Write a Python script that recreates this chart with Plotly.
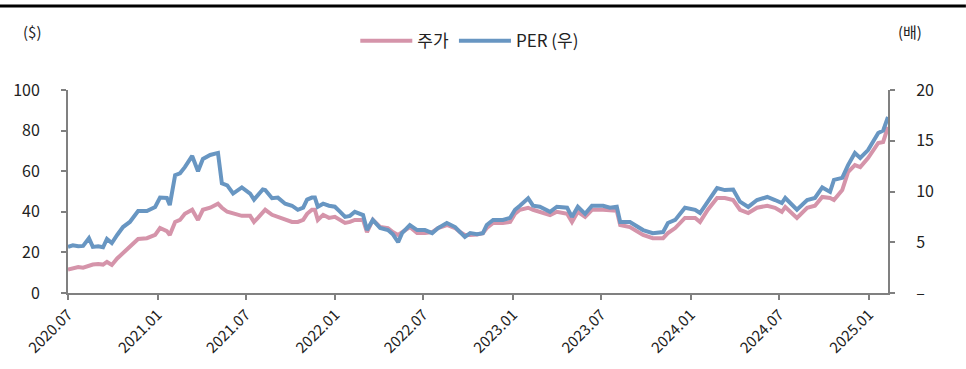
import plotly.graph_objects as go

dates = ["2020-07-01","2020-07-11","2020-07-22","2020-08-01","2020-08-13","2020-08-21","2020-09-01","2020-09-11",
         "2020-09-19","2020-09-29","2020-10-10","2020-10-22","2020-11-05","2020-11-22","2020-12-10","2020-12-27",
         "2021-01-06","2021-01-20","2021-01-26","2021-02-06","2021-02-16","2021-02-26","2021-03-13","2021-03-19",
         "2021-03-25","2021-04-04","2021-04-19","2021-05-05","2021-05-13","2021-05-24","2021-06-05","2021-06-23",
         "2021-07-10","2021-07-18","2021-07-26","2021-08-05","2021-08-10","2021-08-24","2021-09-05","2021-09-20",
         "2021-10-04","2021-10-16","2021-10-27","2021-11-04","2021-11-14","2021-11-20","2021-11-26","2021-12-07",
         "2021-12-19","2021-12-31","2022-01-11","2022-01-21","2022-01-31","2022-02-10","2022-02-27","2022-03-07",
         "2022-03-19","2022-04-03","2022-04-19","2022-04-29","2022-05-10","2022-05-18","2022-06-03","2022-06-18",
         "2022-07-04","2022-07-19","2022-07-31","2022-08-18","2022-09-04","2022-09-14","2022-09-24","2022-10-05",
         "2022-10-19","2022-10-31","2022-11-08","2022-11-21","2022-12-11","2022-12-26","2023-01-05","2023-01-15",
         "2023-02-01","2023-02-11","2023-02-25","2023-03-18","2023-04-01","2023-04-22","2023-05-02","2023-05-14",
         "2023-05-29","2023-06-12","2023-07-05","2023-07-19","2023-08-02","2023-08-09","2023-08-29","2023-09-25",
         "2023-10-15","2023-11-05","2023-11-15","2023-11-30","2023-12-20","2024-01-10","2024-01-20","2024-02-05",
         "2024-02-24","2024-03-11","2024-03-28","2024-04-11","2024-04-28","2024-05-16","2024-06-06","2024-06-22",
         "2024-07-06","2024-07-13","2024-08-06","2024-08-27","2024-09-12","2024-09-27","2024-10-13","2024-10-21",
         "2024-11-07","2024-11-19","2024-12-03","2024-12-14","2024-12-30","2025-01-20","2025-01-30","2025-02-09"]

price = [11.5,12.3,12.8,12.5,13.5,14.0,14.3,14.0,
         15.3,13.8,17.0,19.7,22.7,26.6,27.0,28.6,
         32.0,30.5,28.6,35.0,36.0,39.0,41.0,38.0,
         36.0,41.0,42.0,44.0,42.0,40.0,39.0,38.0,
         38.0,35.0,37.0,40.0,41.0,38.5,37.5,36.0,
         35.0,35.0,36.0,39.0,41.0,41.0,36.0,38.5,
         37.0,37.5,36.0,34.5,35.0,36.0,36.0,30.0,
         36.0,32.5,32.0,30.0,28.6,30.0,32.5,29.5,
         29.5,30.0,32.0,33.5,32.0,30.0,28.6,28.6,
         28.8,29.5,32.0,34.5,34.5,35.0,39.0,41.0,
         42.0,41.0,40.0,38.4,40.0,39.0,35.0,40.0,
         37.5,41.0,41.0,40.5,40.5,33.5,32.5,28.6,
         27.0,27.0,29.5,32.0,37.0,37.0,35.0,41.0,
         46.8,46.8,45.8,41.0,39.4,42.0,43.0,42.0,
         40.0,42.4,37.0,42.0,43.0,47.3,46.8,45.8,
         50.7,59.6,63.0,62.0,66.5,73.9,74.4,81.8]

per = [4.54,4.70,4.60,4.64,5.40,4.54,4.60,4.50,
       5.32,4.92,5.72,6.50,7.00,8.08,8.08,8.48,
       9.40,9.36,8.66,11.60,11.80,12.40,13.50,12.80,
       12.00,13.20,13.60,13.80,10.80,10.60,9.80,10.40,
       9.80,9.20,9.60,10.20,10.14,9.34,9.40,8.80,
       8.60,8.20,8.40,9.20,9.40,9.40,8.50,8.80,
       8.60,8.50,8.00,7.50,7.60,8.00,7.68,6.20,
       7.20,6.40,6.20,5.80,5.00,5.90,6.70,6.20,
       6.20,5.90,6.40,6.90,6.50,6.00,5.52,5.90,
       5.80,5.90,6.70,7.20,7.20,7.40,8.20,8.60,
       9.34,8.60,8.50,8.00,8.50,8.40,7.50,8.50,
       7.80,8.60,8.60,8.40,8.50,7.00,7.00,6.20,
       5.90,6.00,6.90,7.20,8.40,8.20,7.88,9.00,
       10.34,10.14,10.20,9.00,8.48,9.16,9.46,9.16,
       8.86,9.36,8.20,9.16,9.36,10.40,9.96,11.14,
       11.34,12.60,13.80,13.30,14.08,15.76,16.00,17.34]

tick_vals = ["2020-07-01","2021-01-01","2021-07-01","2022-01-01","2022-07-01",
             "2023-01-01","2023-07-01","2024-01-01","2024-07-01","2025-01-01"]
tick_text = ["2020.07","2021.01","2021.07","2022.01","2022.07",
             "2023.01","2023.07","2024.01","2024.07","2025.01"]

FONT = "Noto Sans CJK KR"
AX = "#808080"

fig = go.Figure()
fig.add_trace(go.Scatter(x=dates, y=price, mode="lines", name="주가",
                         line=dict(color="#D594AA", width=4)))
fig.add_trace(go.Scatter(x=dates, y=per, mode="lines", name="PER (우)", yaxis="y2",
                         line=dict(color="#6896C2", width=4)))

fig.update_layout(
    width=966, height=369,
    margin=dict(l=68, r=78, t=90, b=76),
    paper_bgcolor="white", plot_bgcolor="white",
    font=dict(family=FONT, size=16, color="#222222"),
    showlegend=True,
    legend=dict(orientation="h", x=0.49, y=1.24, xanchor="center", yanchor="middle",
                font=dict(size=17), itemwidth=52, bgcolor="rgba(0,0,0,0)"),
    xaxis=dict(type="date", range=["2020-07-01", "2025-02-09"],
               tickvals=tick_vals, ticktext=tick_text, tickangle=-45,
               showgrid=False, zeroline=False, showline=True, linecolor=AX, linewidth=2,
               ticks="outside", ticklen=5, tickcolor=AX, tickwidth=2,
               tickfont=dict(size=15)),
    yaxis=dict(range=[0, 100], dtick=20, showgrid=False, zeroline=False,
               showline=True, linecolor=AX, linewidth=2,
               ticks="outside", ticklen=5, tickcolor=AX, tickwidth=2,
               ticklabelstandoff=18),
    yaxis2=dict(range=[0, 20], overlaying="y", side="right",
                tickvals=[0, 5, 10, 15, 20], ticktext=["–", "5", "10", "15", "20"],
                showgrid=False, zeroline=False, showline=True, linecolor=AX, linewidth=2,
                ticks="outside", ticklen=5, tickcolor=AX, tickwidth=2,
                ticklabelstandoff=18),
    annotations=[
        dict(text="($)", xref="paper", yref="paper", x=-0.044, y=1.29,
             showarrow=False, xanchor="center", yanchor="middle", font=dict(size=15)),
        dict(text="(배)", xref="paper", yref="paper", x=1.027, y=1.29,
             showarrow=False, xanchor="center", yanchor="middle", font=dict(size=15)),
    ],
    shapes=[
        dict(type="line", xref="paper", yref="paper", x0=-0.083, x1=1.095, y0=1.414, y1=1.414,
             line=dict(color="black", width=3)),
    ],
)

fig.write_html("out.html", config={"displayModeBar": False},
               post_script="document.body.style.margin='0';")
